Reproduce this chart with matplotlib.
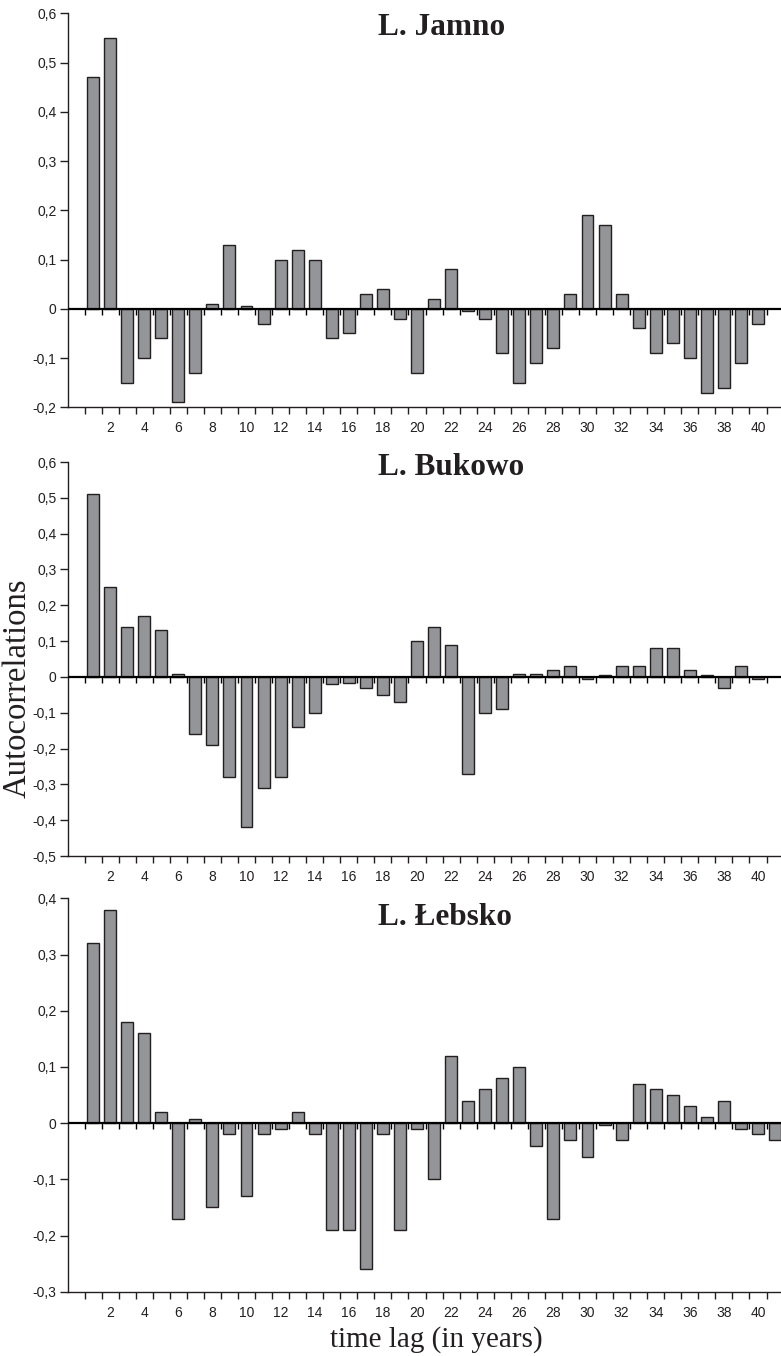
import numpy as np
import matplotlib
matplotlib.use("Agg")
import matplotlib.pyplot as plt

# lags 1..40 (Lebsko has 41, last one cut by the frame)
jamno = [0.47, 0.55, -0.15, -0.10, -0.06, -0.19, -0.13, 0.01, 0.13, 0.005,
         -0.03, 0.10, 0.12, 0.10, -0.06, -0.05, 0.03, 0.04, -0.02, -0.13,
         0.02, 0.08, -0.005, -0.02, -0.09, -0.15, -0.11, -0.08, 0.03, 0.19,
         0.17, 0.03, -0.04, -0.09, -0.07, -0.10, -0.17, -0.16, -0.11, -0.03]
bukowo = [0.51, 0.25, 0.14, 0.17, 0.13, 0.007, -0.16, -0.19, -0.28, -0.42,
          -0.31, -0.28, -0.14, -0.10, -0.02, -0.017, -0.03, -0.05, -0.07, 0.10,
          0.14, 0.09, -0.27, -0.10, -0.09, 0.007, 0.007, 0.02, 0.03, -0.007,
          0.006, 0.03, 0.03, 0.08, 0.08, 0.02, 0.004, -0.03, 0.03, -0.007]
lebsko = [0.32, 0.38, 0.18, 0.16, 0.02, -0.17, 0.008, -0.15, -0.02, -0.13,
          -0.02, -0.01, 0.02, -0.02, -0.19, -0.19, -0.26, -0.02, -0.19, -0.01,
          -0.10, 0.12, 0.04, 0.06, 0.08, 0.10, -0.04, -0.17, -0.03, -0.06,
          -0.003, -0.03, 0.07, 0.06, 0.05, 0.03, 0.01, 0.04, -0.01, -0.02, -0.03]

titles = ["L. Jamno", "L. Bukowo", "L. Łebsko"]
series = [jamno, bukowo, lebsko]
ylims = [(-0.2, 0.6), (-0.5, 0.6), (-0.3, 0.4)]
title_y = [0.9742, 0.6497, 0.3178]
# axes boxes in figure pixels: top, bottom
boxes = [(13.3, 407.3), (462, 856), (898.3, 1291.7)]

W, H = 781, 1356
fig = plt.figure(figsize=(W / 100, H / 100), dpi=100)

bar_col = "#939598"
edge_col = "#231f20"
sans = "Liberation Sans"
serif = "Liberation Serif"


def ylab(v):
    if abs(v) < 1e-9:
        return "0"
    return f"{v:.1f}".replace(".", ",")


for i in range(3):
    top, bot = boxes[i]
    left = 67.5 / W
    ax = fig.add_axes([left, 1 - bot / H, 1 - left, (bot - top) / H])
    vals = series[i]
    lags = np.arange(1, len(vals) + 1)
    ax.bar(lags, vals, width=0.7, color=bar_col, edgecolor=edge_col,
           linewidth=1.0, zorder=2)
    ax.axhline(0, color="black", linewidth=1.6, zorder=3)
    # little downward ticks along the zero line, between bars
    half = np.arange(0.5, 41, 1)
    ax.plot(half, np.zeros_like(half), linestyle="none", marker=3,
            markersize=4.5, markeredgewidth=1.0, color="black", zorder=3)

    lo, hi = ylims[i]
    ax.set_ylim(lo, hi)
    ax.set_xlim(-0.5, 41.35)
    yt = np.round(np.arange(lo, hi + 0.001, 0.1), 1)
    ax.set_yticks(yt)
    ax.set_yticklabels([ylab(v) for v in yt], fontsize=10, family=sans,
                       color="#231f20")
    ax.set_xticks(np.arange(2, 41, 2))
    ax.set_xticklabels([str(k) for k in range(2, 41, 2)], fontsize=10,
                       family=sans, color="#231f20")
    ax.set_xticks(half, minor=True)
    ax.tick_params(axis="x", which="major", length=0, pad=10)
    ax.tick_params(axis="x", which="minor", length=5, width=1.0,
                   direction="out", color="#231f20")
    ax.tick_params(axis="y", length=6, width=1.0, direction="out", pad=2,
                   color="#231f20")
    for s in ["top", "right"]:
        ax.spines[s].set_visible(False)
    for s in ["left", "bottom"]:
        ax.spines[s].set_linewidth(1.0)
        ax.spines[s].set_color("#231f20")

    fig.text(378 / W, title_y[i], titles[i], family=serif, weight="bold",
             fontsize=22.5, color="#231f20", va="baseline", ha="left")

fig.text(17 / W, 1 - 688 / H, "Autocorrelations", family=serif, fontsize=23.5,
         rotation=90, va="center", ha="center", color="#231f20")
fig.text(436 / W, 1 - 1347 / H, "time lag (in years)", family=serif,
         fontsize=21, va="baseline", ha="center", color="#231f20")

fig.savefig("out.png", dpi=100)
